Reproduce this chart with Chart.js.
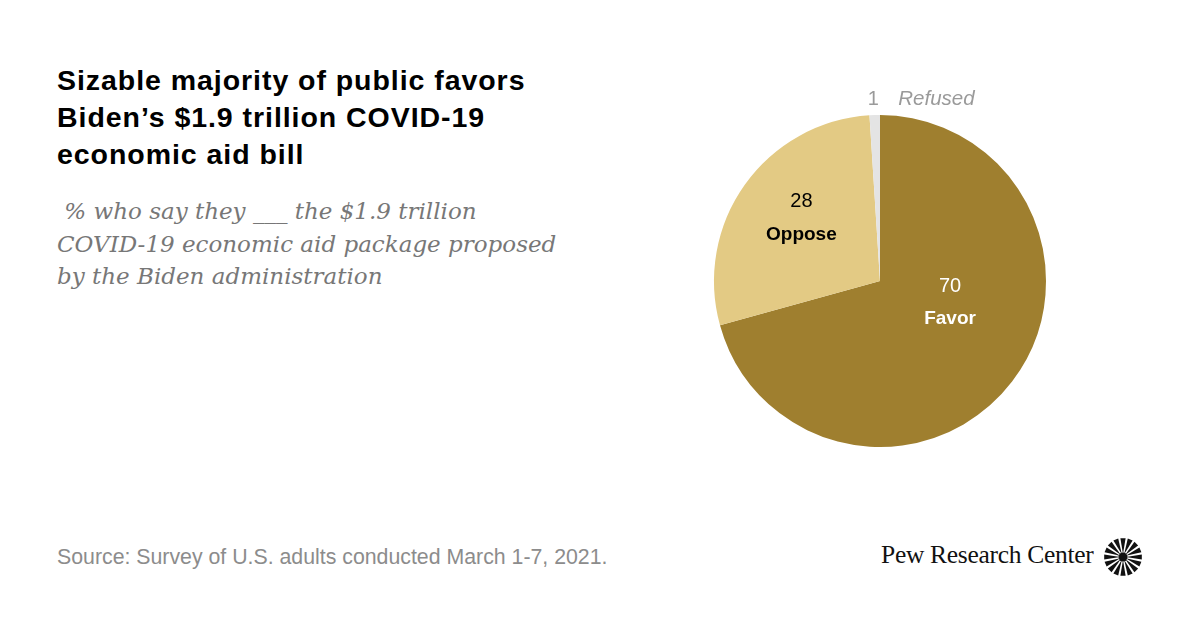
<!DOCTYPE html>
<html>
<head>
<meta charset="utf-8">
<script src="https://cdn.jsdelivr.net/npm/chart.js@4"></script>
<style>
  body { margin: 0; width: 1200px; height: 628px; background: #fff; position: relative; overflow: hidden; }
  #title { position: absolute; left: 57px; top: 62px; font-family: "Liberation Sans", Arial, sans-serif; font-weight: bold; font-size: 28.5px; line-height: 37px; color: #000; letter-spacing: 0.95px; }
  #sub { position: absolute; left: 57px; top: 195px; font-family: "DejaVu Serif", serif; font-style: italic; font-size: 23px; line-height: 32.5px; color: #777; }
  #source { position: absolute; left: 57px; top: 545px; font-family: "Liberation Sans", Arial, sans-serif; font-size: 21.3px; color: #8c8c8c; }
  #brand { position: absolute; left: 881px; top: 540px; font-family: "Liberation Serif", serif; font-size: 25.5px; color: #111; letter-spacing: -0.3px; }
  #pie { position: absolute; left: 680px; top: 80px; }
  #logo { position: absolute; left: 1103px; top: 537px; }
</style>
</head>
<body>
<div id="title">Sizable majority of public favors<br>Biden’s $1.9 trillion COVID-19<br>economic aid bill</div>
<div id="sub">&nbsp;% who say they ___ the $1.9 trillion<br>COVID-19 economic aid package proposed<br>by the Biden administration</div>
<div id="source">Source: Survey of U.S. adults conducted March 1-7, 2021.</div>
<div id="brand">Pew Research Center</div>
<canvas id="logo" width="40" height="40"></canvas>
<div id="pie"><canvas id="pieChart" width="400" height="400"></canvas></div>
<script>
const categories = ["Favor", "Oppose", "Refused"]
const values = [70, 28, 1]
const sliceColors = ["#9f7f2f", "#e3ca84", "#e4e4e4"]

// where each label group sits relative to its slice's tooltip point
const labelStyle = {
    Favor: { dx: 4, dy: -29, color: "#ffffff" },
    Oppose: { dx: -11, dy: -15, color: "#000000" }
}

const sliceLabels = {
    id: "sliceLabels",
    afterDatasetsDraw(chart) {
        const ctx = chart.ctx
        const arcs = chart.getDatasetMeta(0).data
        ctx.save()
        ctx.textAlign = "center"
        ctx.textBaseline = "middle"
        arcs.forEach((arc, i) => {
            const name = categories[i]
            const st = labelStyle[name]
            if (!st) return
            const p = arc.tooltipPosition()
            const x = p.x + st.dx
            const y = p.y + st.dy
            ctx.fillStyle = st.color
            ctx.font = "20px 'Liberation Sans', Arial, sans-serif"
            ctx.fillText(String(values[i]), x, y - 16)
            ctx.font = "bold 19px 'Liberation Sans', Arial, sans-serif"
            ctx.fillText(name, x, y + 17)
        })

        // refused label sits outside the pie, above its thin slice
        const r = arcs[2]
        const mid = (r.startAngle + r.endAngle) / 2
        const rad = r.outerRadius + 16
        const lx = r.x + Math.cos(mid) * rad
        const ly = r.y + Math.sin(mid) * rad
        ctx.fillStyle = "#9a9a9a"
        ctx.font = "20px 'Liberation Sans', Arial, sans-serif"
        ctx.fillText(String(values[2]), lx - 1, ly)
        ctx.textAlign = "left"
        ctx.font = "italic 20.5px 'Liberation Sans', Arial, sans-serif"
        ctx.fillText(categories[2], lx + 24, ly)
        ctx.restore()
    }
}

new Chart(document.getElementById("pieChart").getContext("2d"), {
    type: "pie",
    data: {
        labels: categories,
        datasets: [{
            data: values,
            backgroundColor: sliceColors,
            borderWidth: 0
        }]
    },
    options: {
        responsive: false,
        animation: false,
        layout: { padding: { top: 35, left: 34, right: 34, bottom: 33 } },
        plugins: { legend: { display: false }, tooltip: { enabled: false } }
    },
    plugins: [sliceLabels]
})

// sunburst mark next to the brand name
const lg = document.getElementById("logo").getContext("2d")
lg.translate(20, 20)
const rays = 16
for (let i = 0; i < rays; i++) {
    const a = (i / rays) * Math.PI * 2
    const w = Math.PI / rays * 0.7
    lg.beginPath()
    lg.moveTo(Math.cos(a) * 3, Math.sin(a) * 3)
    lg.lineTo(Math.cos(a - w) * 19, Math.sin(a - w) * 19)
    lg.lineTo(Math.cos(a + w) * 19, Math.sin(a + w) * 19)
    lg.closePath()
    lg.fillStyle = "#111"
    lg.fill()
}
lg.beginPath()
lg.arc(0, 0, 4.5, 0, Math.PI * 2)
lg.fill()
</script>
</body>
</html>
